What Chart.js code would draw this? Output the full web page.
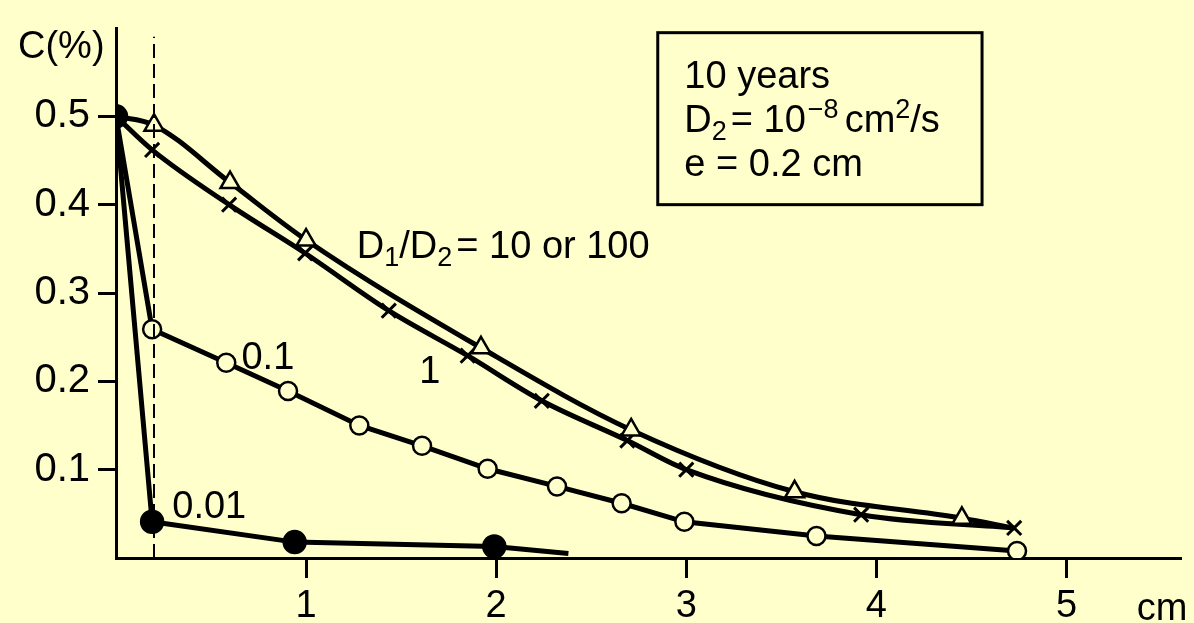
<!DOCTYPE html>
<html><head><meta charset="utf-8">
<script src="https://cdn.jsdelivr.net/npm/chart.js@4/dist/chart.umd.min.js"></script>
<style>html,body{margin:0;padding:0;background:#ffffcc;} #wrap{width:1194px;height:623px;position:relative;}</style>
</head><body><div id="wrap"><canvas id="c"></canvas></div>
<script>
// D1/D2 = 10 or 100 (triangles)
const triX = [0, 0.2, 0.6, 1.0, 1.92, 2.71, 3.57, 4.45, 4.72];
const triY = [0.5, 0.49, 0.425, 0.36, 0.238, 0.145, 0.075, 0.045, 0.034];
// D1/D2 = 1 (crosses)
const crossX = [0, 0.19, 0.595, 0.995, 1.435, 1.85, 2.24, 2.69, 3.0, 3.92, 4.725];
const crossY = [0.5, 0.462, 0.40, 0.345, 0.28, 0.229, 0.178, 0.133, 0.10, 0.049, 0.034];
// D1/D2 = 0.1 (open circles)
const circX = [0, 0.19, 0.58, 0.905, 1.28, 1.61, 1.955, 2.32, 2.66, 2.99, 3.685, 4.74];
const circY = [0.5, 0.259, 0.221, 0.189, 0.150, 0.127, 0.101, 0.081, 0.062, 0.041, 0.025, 0.008];
// D1/D2 = 0.01 (filled circles)
const dotX = [0, 0.19, 0.94, 1.99, 2.38];
const dotY = [0.5, 0.041, 0.018, 0.013, 0.005];
// layer thickness e
const eThick = 0.2;
const xTicks = [1, 2, 3, 4, 5];
const yTicks = [0.1, 0.2, 0.3, 0.4, 0.5];
const xMax = 5.6, yMax = 0.6;

const BG = '#ffffcc';
const FONT = '"Liberation Sans", Arial, sans-serif';
const pts = (xs, ys) => xs.map((x, i) => ({x, y: ys[i]}));

function rich(ctx, x, y, parts) {
  let cx = x;
  parts.forEach(p => {
    const s = p.s || 38;
    ctx.font = s + 'px ' + FONT;
    ctx.fillText(p.t, cx, y + (p.dy || 0));
    cx += ctx.measureText(p.t).width + (p.g || 0);
  });
}

const annot = {
  id: 'annot',
  afterDatasetsDraw(chart) {
    const ctx = chart.ctx, xs = chart.scales.x, ys = chart.scales.y;
    const X = v => xs.getPixelForValue(v), Y = v => ys.getPixelForValue(v);
    ctx.save();
    ctx.textBaseline = 'alphabetic';
    ctx.textAlign = 'left';
    // info box
    const bx0 = X(2.85), bx1 = X(4.556), by0 = Y(0.5947), by1 = Y(0.40);
    ctx.fillStyle = BG;
    ctx.fillRect(bx0, by0, bx1 - bx0, by1 - by0);
    ctx.strokeStyle = '#000'; ctx.lineWidth = 3;
    ctx.strokeRect(bx0, by0, bx1 - bx0, by1 - by0);
    ctx.fillStyle = '#000';
    const tx = X(2.99);
    rich(ctx, tx, Y(0.532), [{t: '10 years'}]);
    rich(ctx, tx, Y(0.482), [{t: 'D'}, {t: '2', s: 27, dy: 8, g: 4}, {t: '= 10', g: 2}, {t: '\u22128', s: 27, dy: -14, g: 6}, {t: 'cm'}, {t: '2', s: 27, dy: -14}, {t: '/s'}]);
    rich(ctx, tx, Y(0.433), [{t: 'e = 0.2 cm'}]);
    // curve labels
    rich(ctx, X(1.267), Y(0.3395), [{t: 'D'}, {t: '1', s: 27, dy: 8}, {t: '/D'}, {t: '2', s: 27, dy: 8, g: 4}, {t: '= 10 or 100'}]);
    rich(ctx, X(1.595), Y(0.198), [{t: '1'}]);
    rich(ctx, X(0.66), Y(0.2136), [{t: '0.1'}]);
    rich(ctx, X(0.296), Y(0.0449), [{t: '0.01'}]);
    // axis titles
    rich(ctx, xs.left - 98, ys.top + 30, [{t: 'C(%)'}]);
    rich(ctx, X(5.37), ys.bottom + 62, [{t: 'cm'}]);
    ctx.restore();
  }
};

const common = {showLine: true, borderColor: '#000', borderWidth: 5, tension: 0,
  pointBorderColor: '#000', pointBorderWidth: 2.5, pointBackgroundColor: BG};

new Chart(document.getElementById('c'), {
  type: 'scatter',
  data: {
    datasets: [
      {data: [{x: eThick, y: 0}, {x: eThick, y: 0.59}], showLine: true, borderColor: '#000', borderWidth: 2, borderDash: [14, 6], pointRadius: 0},
      Object.assign({}, common, {label: '10 or 100', data: pts(triX, triY), pointStyle: 'triangle', cubicInterpolationMode: 'monotone',
        pointRadius: c => (c.dataIndex === 0 || c.dataIndex === triX.length - 1) ? 0 : 11}),
      Object.assign({}, common, {label: '1', data: pts(crossX, crossY), pointStyle: 'crossRot', pointBorderWidth: 3, cubicInterpolationMode: 'monotone',
        pointRadius: c => c.dataIndex === 0 ? 0 : 10}),
      Object.assign({}, common, {label: '0.1', data: pts(circX, circY), pointStyle: 'circle',
        pointRadius: c => c.dataIndex === 0 ? 0 : 9}),
      Object.assign({}, common, {label: '0.01', data: pts(dotX, dotY), pointStyle: 'circle', pointBackgroundColor: '#000',
        pointRadius: c => c.dataIndex === dotX.length - 1 ? 0 : 11})
    ]
  },
  options: {
    responsive: true, maintainAspectRatio: false, animation: false,
    layout: {padding: {top: 10, right: 0, left: 0, bottom: 0}},
    plugins: {legend: {display: false}, tooltip: {enabled: false}},
    scales: {
      x: {type: 'linear', min: 0, max: xMax,
        afterBuildTicks: s => { s.ticks = xTicks.map(v => ({value: v})); },
        afterFit: s => { s.height = 65; },
        ticks: {color: '#000', font: {family: FONT, size: 38, lineHeight: 1}, padding: 10, maxRotation: 0, autoSkip: false},
        grid: {drawOnChartArea: false, drawTicks: true, tickLength: 20, color: '#000', lineWidth: 3},
        border: {color: '#000', width: 3}},
      y: {type: 'linear', min: 0, max: yMax,
        afterBuildTicks: s => { s.ticks = yTicks.map(v => ({value: v})); },
        afterFit: s => { s.width = 116; },
        ticks: {color: '#000', font: {family: FONT, size: 40, lineHeight: 1}, padding: 8, callback: v => v.toFixed(1)},
        grid: {drawOnChartArea: false, drawTicks: true, tickLength: 18, color: '#000', lineWidth: 3},
        border: {color: '#000', width: 3}}
    }
  },
  plugins: [annot]
});
</script>
</body></html>
